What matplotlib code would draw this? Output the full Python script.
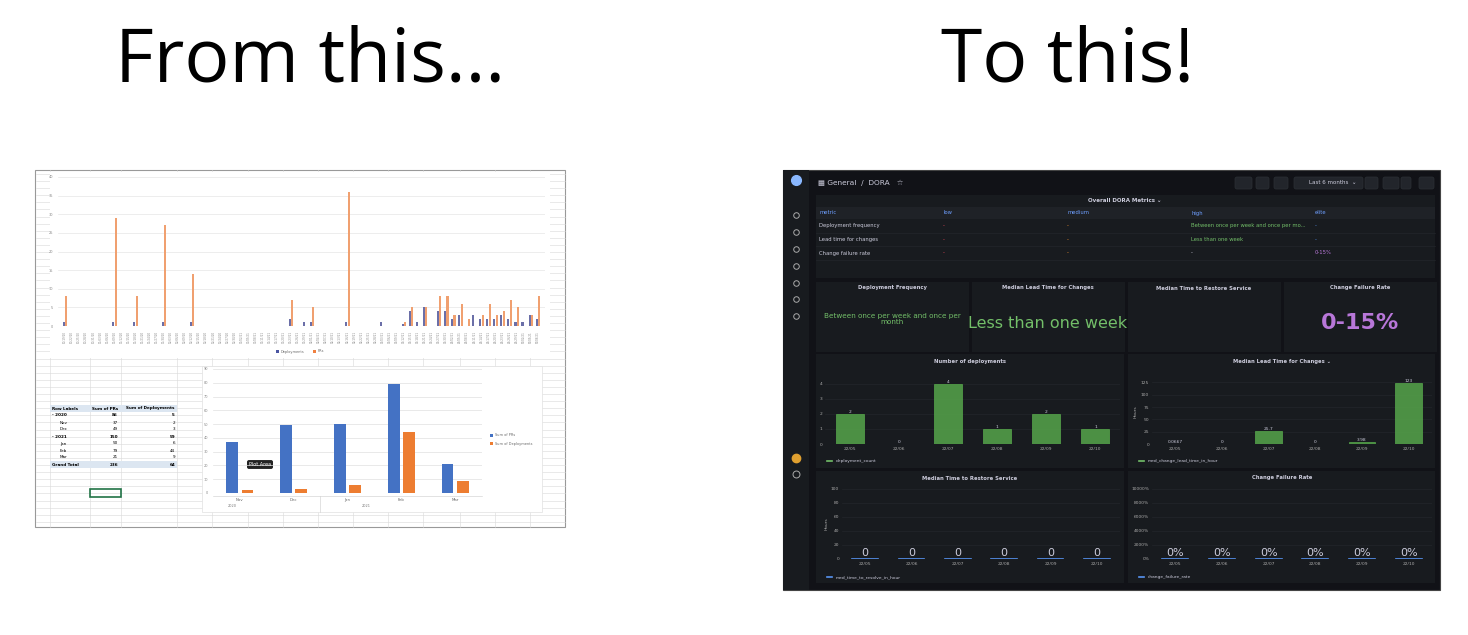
import matplotlib
matplotlib.use("Agg")
import matplotlib.pyplot as plt
import matplotlib.patches as mp
import numpy as np
import pandas as pd

W, H = 1468, 635
# ---------------- data ----------------
pr_dates = [d.strftime("%m/%d/%y") for d in pd.date_range("2020-10-19", periods=68, freq="3D")]
pr_deploys = [1,0,0,0,0,0,0,1,0,0,1,0,0,0,1,0,0,0,1,0,0,0,0,0,0,0,0,0,0,0,0,0,2,0,1,1,0,0,0,0,
              1,0,0,0,0,1,0,0,0.5,4,1,5,0,4,4,2,3,0,3,2,2,2,3,2,1,1,3,2]
pr_prs =     [8,0,0,0,0,0,0,29,0,0,8,0,0,0,27,0,0,0,14,0,0,0,0,0,0,0,0,0,0,0,0,0,7,0,0,5,0,0,0,0,
              36,0,0,0,0,0,0,0,1,5,0,5,0,8,8,3,6,2,0,3,6,3,4,7,5,0,3,8]
months = ["Nov", "Dec", "Jan", "Feb", "Mar"]
years = ["2020", "2021"]
sum_prs = [37, 49, 50, 79, 21]
sum_deps = [2, 3, 6, 44, 9]
pivot_rows = [("Row Labels", "Sum of PRs", "Sum of Deployments"), ("- 2020", "86", "5"), ("Nov", "37", "2"),
              ("Dec", "49", "3"), ("- 2021", "150", "59"), ("Jan", "50", "6"), ("Feb", "79", "44"),
              ("Mar", "21", "9"), ("Grand Total", "236", "64")]

g_months = ["22/05", "22/06", "22/07", "22/08", "22/09", "22/10"]
deploy_count = [2, 0, 4, 1, 2, 1]
lead_time = [0.0667, 0, 25.7, 0, 3.98, 123]
lead_labels = ["0.0667", "0", "25.7", "0", "3.98", "123"]
mttr = [0, 0, 0, 0, 0, 0]
cfr = [0, 0, 0, 0, 0, 0]
table_cols = ["metric", "low", "medium", "high", "elite"]
table_rows = [["Deployment frequency", "-", "-", "Between once per week and once per mo...", "-"],
              ["Lead time for changes", "-", "-", "Less than one week", "-"],
              ["Change failure rate", "-", "-", "-", "0-15%"]]

plt.rcParams['font.family'] = ['DejaVu Sans']
fig = plt.figure(figsize=(W/100, H/100), dpi=100)
bg = fig.add_axes([0, 0, 1, 1])
bg.set_xlim(0, W); bg.set_ylim(H, 0); bg.axis("off")

def ax_px(x0, y0, w, h):
    return fig.add_axes([x0/W, 1-(y0+h)/H, w/W, h/H])

def rect(x, y, w, h, fc, ec="none", lw=0.5, z=1):
    bg.add_patch(mp.Rectangle((x, y), w, h, fc=fc, ec=ec, lw=lw, zorder=z))

# titles
bg.text(310, 62, "From this...", fontsize=54, ha="center", va="center", family="Open Sans")
bg.text(1068, 62, "To this!", fontsize=54, ha="center", va="center", family="Open Sans")

# ---------------- spreadsheet ----------------
rect(35, 170, 530, 357, "white", ec="#999999", lw=0.8)
for y in np.arange(174, 527, 7.1):
    bg.plot([36, 565], [y, y], color="#d9d9d9", lw=0.4, zorder=1.1)
for x in [50, 90, 121, 177, 212, 248, 283, 318, 353, 388, 423, 460, 495, 530]:
    bg.plot([x, x], [170, 527], color="#d9d9d9", lw=0.4, zorder=1.1)
rect(50, 172, 500, 186, "white", z=1.2)
rect(202, 366, 340, 146, "white", ec="#e0e0e0", z=1.2)

# top excel chart
a1 = ax_px(58, 177, 487, 149)
x = np.arange(len(pr_dates))
a1.bar(x - 0.18, pr_deploys, width=0.3, color="#6b6fa8")
a1.bar(x + 0.18, pr_prs, width=0.3, color="#f0a070")
a1.set_ylim(0, 40); a1.set_xlim(-1, len(pr_dates))
a1.set_yticks(range(0, 41, 5))
a1.tick_params(axis="y", labelsize=2.5, length=0, colors="#888888")
a1.set_xticks(x); a1.set_xticklabels(pr_dates, rotation=90, fontsize=2, color="#888888")
a1.tick_params(axis="x", length=0)
a1.grid(axis="y", color="#e6e6e6", lw=0.5); a1.set_axisbelow(True)
for s in a1.spines.values(): s.set_visible(False)
a1.set_facecolor("none")
bg.add_patch(mp.Rectangle((276, 350), 3, 3, fc="#4a55a2", zorder=3))
bg.text(281, 351.5, "Deployments", fontsize=2.5, va="center", color="#666666", zorder=3)
bg.add_patch(mp.Rectangle((313, 350), 3, 3, fc="#f08040", zorder=3))
bg.text(318, 351.5, "PRs", fontsize=2.5, va="center", color="#666666", zorder=3)

# pivot table
rect(50, 405, 127, 7, "#dce6f1", z=2)
rect(50, 461, 127, 7, "#dce6f1", z=2)
for i, (a, b, c) in enumerate(pivot_rows):
    y = 408.5 + i * 7
    bold = i in (0, 1, 4, 8)
    indent = 8 if (i not in (0, 1, 4, 8)) else 0
    bg.text(52 + indent, y, a, fontsize=3, va="center", weight="bold" if bold else "normal", zorder=3)
    bg.text(118, y, b, fontsize=3, va="center", ha="right", weight="bold" if bold else "normal", zorder=3)
    bg.text(175, y, c, fontsize=3, va="center", ha="right", weight="bold" if bold else "normal", zorder=3)
bg.add_patch(mp.Rectangle((90, 489), 31, 8, fc="none", ec="#217346", lw=1.2, zorder=3))

# bottom excel chart
a2 = ax_px(213, 369, 269, 124)
xm = np.arange(len(months))
a2.bar(xm - 0.14, sum_prs, width=0.22, color="#4472c4", label="Sum of PRs")
a2.bar(xm + 0.14, sum_deps, width=0.22, color="#ed7d31", label="Sum of Deployments")
a2.set_ylim(0, 90); a2.set_xlim(-0.5, 4.5)
a2.set_yticks(range(0, 91, 10))
a2.tick_params(axis="y", labelsize=2.5, length=0, colors="#888888")
a2.set_xticks(xm); a2.set_xticklabels(months, fontsize=2.8, color="#666666")
a2.tick_params(axis="x", length=0)
a2.grid(axis="y", color="#e0e0e0", lw=0.5); a2.set_axisbelow(True)
for s in a2.spines.values(): s.set_visible(False)
a2.set_facecolor("none")
bg.text(232, 507, years[0], fontsize=2.5, ha="center", color="#777777", zorder=3)
bg.text(366, 507, years[1], fontsize=2.5, ha="center", color="#777777", zorder=3)
bg.plot([213, 482], [496, 496], color="#cccccc", lw=0.4, zorder=3)
bg.plot([320, 320], [496, 512], color="#cccccc", lw=0.4, zorder=3)
bg.add_patch(mp.Rectangle((490, 434), 3, 3, fc="#4472c4", zorder=3))
bg.text(495, 435.5, "Sum of PRs", fontsize=2.5, va="center", color="#666666", zorder=3)
bg.add_patch(mp.Rectangle((490, 442), 3, 3, fc="#ed7d31", zorder=3))
bg.text(495, 443.5, "Sum of Deployments", fontsize=2.5, va="center", color="#666666", zorder=3)
bg.text(260, 464.5, "Plot Area", fontsize=3.5, color="white", ha="center", va="center", zorder=6,
        bbox=dict(boxstyle="round,pad=0.4", fc="#222222", ec="none"))

# ---------------- grafana ----------------
DARK, PANEL, TXT, GREEN, PURPLE = "#111217", "#181b1f", "#ccccdc", "#73bf69", "#b877d9"
rect(783, 170, 657, 420, DARK, ec="#444444", lw=0.8)
rect(783, 170, 26, 420, "#181b1f", z=1.1)
bg.plot(796, 180, "o", ms=7, color="#8ab8ff", zorder=3)
for y in [215, 232, 249, 266, 283, 299, 316]:
    bg.plot(796, y, "o", ms=4, mfc="none", mec="#aaaaaa", mew=0.7, zorder=3)
bg.plot(796, 458, "o", ms=6, color="#e0a030", zorder=3)
bg.plot(796, 474, "o", ms=5, mfc="none", mec="#aaaaaa", mew=0.7, zorder=3)
bg.text(818, 183, "\u25a6 General  /  DORA   \u2606", fontsize=5.3, color=TXT, va="center", zorder=3)
for bx, bw in [(1235, 17), (1256, 13), (1274, 14), (1294, 69), (1365, 13), (1383, 16), (1401, 10), (1419, 15)]:
    bg.add_patch(mp.FancyBboxPatch((bx, 177), bw, 12, boxstyle="round,pad=0,rounding_size=2",
                                   fc="#22252b", ec="#2c3035", lw=0.5, zorder=3))
bg.text(1309, 183, "Last 6 months  \u2304", fontsize=4, color=TXT, va="center", zorder=4)

# table panel
rect(816, 195, 619, 83, PANEL, z=2)
bg.text(1125, 201, "Overall DORA Metrics \u2304", fontsize=4, color=TXT, ha="center", va="center",
        weight="bold", zorder=3)
col_x = [819, 943, 1067, 1191, 1315]
for j, c in enumerate(table_cols):
    bg.text(col_x[j], 213, c, fontsize=3.8, color="#6e9fff", va="center", zorder=3)
rect(816, 207, 619, 12, "#1f2227", z=2.5)
for i, row in enumerate(table_rows):
    y = 226 + i * 13.5
    bg.plot([816, 1435], [y + 6.5, y + 6.5], color="#23262b", lw=0.5, zorder=2.6)
    for j, v in enumerate(row):
        col = TXT
        if j == 1: col = "#f2495c"
        if j == 2: col = "#ff9830"
        if j == 3 and v != "-": col = GREEN
        if j == 4 and v != "-": col = PURPLE
        if j == 4 and v == "-": col = "#5794f2"
        bg.text(col_x[j], y, v, fontsize=3.8, color=col, va="center", zorder=3)

# stat panels
stats = [(816, "Deployment Frequency"), (972, "Median Lead Time for Changes"),
         (1128, "Median Time to Restore Service"), (1284, "Change Failure Rate")]
for sx, title in stats:
    rect(sx, 282, 153, 70, PANEL, z=2)
    bg.text(sx + 76, 288, title, fontsize=3.8, color=TXT, ha="center", va="center", weight="bold", zorder=3)
bg.text(892, 319, "Between once per week and once per\nmonth", fontsize=5.2, color=GREEN,
        ha="center", va="center", zorder=3, linespacing=1.1)
bg.text(1048, 323, "Less than one week", fontsize=11.5, color=GREEN, ha="center", va="center", zorder=3)
bg.text(1360, 323, "0-15%", fontsize=16, color=PURPLE, ha="center", va="center", weight="bold", zorder=3)

# chart panels
panels = [(816, 354, "Number of deployments"), (1128, 354, "Median Lead Time for Changes \u2304"),
          (816, 471, "Median Time to Restore Service"), (1128, 471, "Change Failure Rate")]
for px, py, title in panels:
    rect(px, py, 308 if px == 816 else 307, 114 if py == 354 else 112, PANEL, z=2)
    bg.text(px + 154, py + 7, title, fontsize=3.8, color=TXT, ha="center", va="center", weight="bold", zorder=3)

def gchart(rect_px, vals, ylim, yticks, ytl, labels, color, big=False, ylabel=None, lab_fs=3.2):
    a = ax_px(*rect_px)
    xx = np.arange(len(g_months))
    a.bar(xx, vals, width=0.57, color=color, alpha=0.85, edgecolor=color, lw=0.6)
    a.set_xlim(-0.5, len(g_months) - 0.5); a.set_ylim(*ylim)
    a.set_yticks(yticks); a.set_yticklabels(ytl)
    a.set_xticks(xx); a.set_xticklabels(g_months)
    a.tick_params(colors="#aaaaaa", labelsize=3.2, length=0, pad=2)
    a.grid(axis="y", color="#26292e", lw=0.4); a.set_axisbelow(True)
    for s in a.spines.values(): s.set_visible(False)
    a.set_facecolor("none")
    if ylabel:
        a.set_ylabel(ylabel, fontsize=3.2, color="#aaaaaa", labelpad=2)
    for xi, v, l in zip(xx, vals, labels):
        if big:
            a.text(xi, ylim[1] * 0.02, l, fontsize=8, color=TXT, ha="center", va="bottom")
            a.plot([xi - 0.28, xi + 0.28], [0, 0], color="#5794f2", lw=1.2)
        else:
            a.text(xi, v, l, fontsize=3.2, color=TXT, ha="center", va="bottom")
    return a

gchart((825, 379, 295, 65), deploy_count, (0, 4.3), range(5), [str(i) for i in range(5)],
       [str(v) for v in deploy_count], "#56a64b")
gchart((1152, 380, 280, 64), lead_time, (0, 130), range(0, 126, 25), [str(i) for i in range(0, 126, 25)],
       lead_labels, "#56a64b", ylabel="Hours")
gchart((842, 489, 278, 70), mttr, (0, 100), range(0, 101, 20), [str(i) for i in range(0, 101, 20)],
       ["0"] * 6, "#5794f2", big=True, ylabel="Hours")
gchart((1152, 489, 280, 70), cfr, (0, 10000), range(0, 10001, 2000),
       [f"{i}%" for i in range(0, 10001, 2000)], ["0%"] * 6, "#5794f2", big=True)

legs = [(827, 461, "deployment_count", GREEN), (1139, 461, "med_change_lead_time_in_hour", GREEN),
        (827, 577, "med_time_to_resolve_in_hour", "#5794f2"), (1139, 577, "change_failure_rate", "#5794f2")]
for lx, ly, t, c in legs:
    bg.plot([lx, lx + 5], [ly, ly], color=c, lw=1.2, zorder=3)
    bg.text(lx + 9, ly, t, fontsize=3.2, color=TXT, va="center", zorder=3)

fig.savefig("out.png", dpi=100)
